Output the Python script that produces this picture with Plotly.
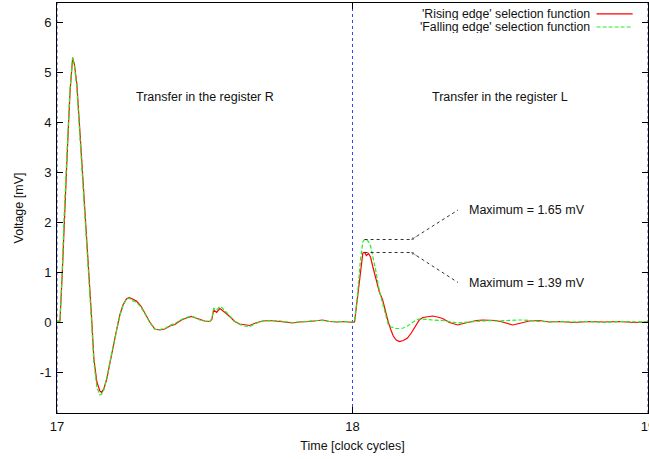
import plotly.graph_objects as go

# ---- data ----
time = [17.000, 17.010, 17.018, 17.024, 17.034, 17.044, 17.053, 17.059, 17.067, 17.078,
        17.088, 17.098, 17.108, 17.117, 17.125, 17.135, 17.145, 17.151, 17.159, 17.169,
        17.179, 17.190, 17.202, 17.213, 17.224, 17.235, 17.244, 17.253, 17.269, 17.284,
        17.303, 17.314, 17.331, 17.348, 17.365, 17.382, 17.399, 17.421, 17.438, 17.455,
        17.470, 17.483, 17.500, 17.517, 17.524, 17.530, 17.540, 17.551, 17.561, 17.573,
        17.588, 17.601, 17.618, 17.635, 17.652, 17.672, 17.696, 17.720, 17.743, 17.770,
        17.797, 17.821, 17.855, 17.878, 17.899, 17.922, 17.946, 17.973, 18.000, 18.007,
        18.017, 18.027, 18.035, 18.041, 18.047, 18.054, 18.061, 18.069, 18.078, 18.091,
        18.102, 18.113, 18.121, 18.130, 18.138, 18.148, 18.159, 18.172, 18.186, 18.199,
        18.215, 18.226, 18.238, 18.253, 18.271, 18.287, 18.305, 18.328, 18.356, 18.375,
        18.395, 18.419, 18.440, 18.463, 18.485, 18.507, 18.524, 18.542, 18.557, 18.574,
        18.598, 18.632, 18.666, 18.699, 18.750, 18.801, 18.851, 18.902, 18.953, 19.000]

rising = [0.00, 0.02, 1.00, 2.00, 3.30, 4.60, 5.28, 5.15, 4.77, 3.77,
          2.75, 1.84, 0.95, 0.10, -0.75, -1.20, -1.38, -1.41, -1.33, -1.12,
          -0.80, -0.50, -0.15, 0.15, 0.35, 0.46, 0.49, 0.46, 0.42, 0.32,
          0.12, 0.00, -0.14, -0.16, -0.14, -0.08, -0.05, 0.04, 0.08, 0.11,
          0.08, 0.05, 0.02, 0.01, 0.05, 0.24, 0.19, 0.27, 0.23, 0.17,
          0.09, 0.01, -0.04, -0.06, -0.07, -0.02, 0.02, 0.03, 0.02, 0.00,
          -0.02, 0.00, 0.01, 0.03, 0.04, 0.01, 0.00, 0.01, -0.01, 0.00,
          0.50, 1.10, 1.38, 1.39, 1.33, 1.37, 1.30, 1.10, 0.90, 0.60,
          0.44, 0.17, 0.00, -0.16, -0.28, -0.36, -0.39, -0.37, -0.32, -0.22,
          -0.06, 0.04, 0.09, 0.11, 0.12, 0.10, 0.07, -0.01, -0.06, -0.03,
          0.00, 0.03, 0.04, 0.04, 0.03, 0.00, -0.03, -0.06, -0.04, -0.01,
          0.02, 0.03, 0.00, 0.01, -0.01, 0.01, 0.00, 0.01, -0.01, 0.00]

falling = [0.00, 0.03, 1.05, 2.10, 3.40, 4.65, 5.30, 5.12, 4.70, 3.70,
           2.65, 1.75, 0.85, 0.00, -0.82, -1.30, -1.46, -1.44, -1.35, -1.12,
           -0.80, -0.48, -0.14, 0.14, 0.34, 0.45, 0.48, 0.43, 0.40, 0.30,
           0.11, -0.01, -0.15, -0.15, -0.13, -0.07, -0.03, 0.05, 0.09, 0.12,
           0.08, 0.04, 0.02, 0.01, 0.07, 0.27, 0.24, 0.31, 0.27, 0.19,
           0.10, 0.02, -0.05, -0.08, -0.09, -0.03, 0.02, 0.03, 0.03, 0.01,
           -0.01, 0.00, 0.02, 0.03, 0.03, 0.01, 0.01, 0.00, -0.01, 0.00,
           0.55, 1.25, 1.60, 1.65, 1.65, 1.61, 1.52, 1.32, 1.05, 0.62,
           0.36, 0.08, -0.05, -0.10, -0.12, -0.13, -0.13, -0.12, -0.08, -0.02,
           0.04, 0.06, 0.06, 0.05, 0.04, 0.04, 0.03, 0.01, -0.02, -0.01,
           0.00, 0.02, 0.03, 0.03, 0.02, 0.03, 0.03, 0.04, 0.04, 0.04,
           0.03, 0.02, 0.00, 0.01, 0.00, 0.01, -0.01, 0.01, 0.00, 0.00]

series_names = ["'Rising edge' selection function", "'Falling edge' selection function"]
x_ticks = [17, 18, 19]
y_ticks = [-1, 0, 1, 2, 3, 4, 5, 6]
region_labels = ["Transfer in the register R", "Transfer in the register L"]
region_centers = [17.5, 18.5]
clock_edges = [17, 18, 19]

FONT = "Liberation Sans, Arial, Helvetica, sans-serif"
RED = "#ff0000"
GREEN = "#22ee22"
TXT = "#111"

fig = go.Figure()
fig.add_trace(go.Scatter(x=time, y=rising, mode="lines", name=series_names[0],
                         line=dict(color=RED, width=1.2), showlegend=False))
fig.add_trace(go.Scatter(x=time, y=falling, mode="lines", name=series_names[1],
                         line=dict(color=GREEN, width=1.2, dash="4px,2px"), showlegend=False))

# blue dotted clock-edge lines
for ce in clock_edges:
    fig.add_shape(type="line", xref="x", yref="paper", x0=ce, x1=ce, y0=0, y1=1,
                  line=dict(color="#3344ff", width=1, dash="dot"), layer="below")

# region labels
for lbl, c in zip(region_labels, region_centers):
    fig.add_annotation(x=c, y=4.5, xref="x", yref="y", text=lbl, showarrow=False,
                       font=dict(family=FONT, size=12.5, color=TXT))

# maximum annotations (computed from data in the 2nd transfer)
second = [i for i, t in enumerate(time) if t > 18.0]
def peak(vals):
    i = max(second, key=lambda k: vals[k])
    return time[i], vals[i]

knee_t = 18.2
text_t = 18.357
for vals, ty in ((falling, 2.24), (rising, 0.79)):
    pt, pv = peak(vals)
    fig.add_shape(type="line", xref="x", yref="y", x0=pt, x1=knee_t, y0=pv, y1=pv,
                  line=dict(color="#333", width=1, dash="dot"))
    fig.add_shape(type="line", xref="x", yref="y", x0=knee_t, x1=text_t, y0=pv, y1=ty,
                  line=dict(color="#333", width=1, dash="dot"))
    dy = -5.5 if ty > pv else 5.5
    fig.add_annotation(x=knee_t, y=pv, xref="x", yref="y", text="", showarrow=True,
                       ax=8.5, ay=dy, arrowhead=1, arrowsize=1, arrowwidth=0.6,
                       arrowcolor="#777")
    fig.add_annotation(x=text_t + 0.03, y=ty, xref="x", yref="y",
                       text=f"Maximum = {pv:.2f} mV", showarrow=False, xanchor="left",
                       font=dict(family=FONT, size=12.5, color=TXT))

# manual gnuplot-style legend (text then sample)
leg_y = [0.9735, 0.9415]
for name, col, dash, ly in ((series_names[0], RED, "solid", leg_y[0]),
                            (series_names[1], GREEN, "4px,2px", leg_y[1])):
    fig.add_annotation(x=0.9035, y=ly, xref="paper", yref="paper", text=name,
                       showarrow=False, xanchor="right", yanchor="middle",
                       height=13, borderpad=0, valign="middle",
                       font=dict(family=FONT, size=12.3, color=TXT))
    fig.add_shape(type="line", xref="paper", yref="paper", x0=0.913, x1=0.974,
                  y0=ly, y1=ly, line=dict(color=col, width=1.2, dash=dash))

fig.update_layout(
    width=649, height=459,
    margin=dict(l=57, r=1, t=3, b=46),
    paper_bgcolor="white", plot_bgcolor="white",
    font=dict(family=FONT, size=12.5, color=TXT),
    xaxis=dict(range=[17, 19], tickvals=x_ticks, ticktext=[str(v) for v in x_ticks],
               ticks="inside", ticklen=6, tickcolor="black", showline=True,
               linecolor="black", linewidth=1, mirror="ticks", showgrid=False,
               zeroline=False, tickfont=dict(size=13), automargin=False,
               ticklabeloverflow="allow", ticklabelstandoff=1,
               title=dict(text="Time [clock cycles]", standoff=8, font=dict(size=12.5))),
    yaxis=dict(range=[-1.82, 6.38], tickvals=y_ticks,
               ticktext=[str(v) for v in y_ticks],
               ticks="inside", ticklen=6,
               tickcolor="black", showline=True, linecolor="black", linewidth=1,
               mirror="ticks", showgrid=False, zeroline=False, tickfont=dict(size=13),
               automargin=False, ticklabelstandoff=2,
               title=dict(text="Voltage [mV]", standoff=13, font=dict(size=12.5))),
)

fig.write_html("out.html")
